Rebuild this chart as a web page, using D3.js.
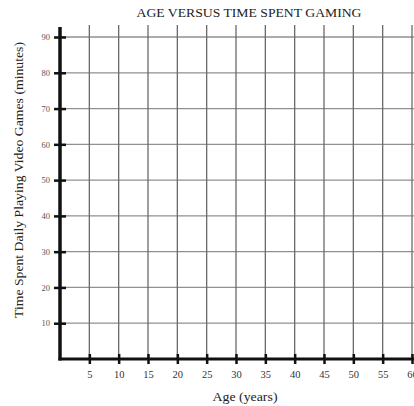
<!DOCTYPE html>
<html>
<head>
<meta charset="utf-8">
<script src="https://cdn.jsdelivr.net/npm/d3@7"></script>
<style>
  body { margin: 0; background: #fff; }
  svg { display: block; font-family: "Liberation Serif", "Times New Roman", serif; }
</style>
</head>
<body>
<div id="chart"></div>
<script>
// chart data: an empty worksheet grid
var title = "AGE VERSUS TIME SPENT GAMING";
var xLabel = "Age (years)";
var yLabel = "Time Spent Daily Playing Video Games (minutes)";
var xTicks = [5, 10, 15, 20, 25, 30, 35, 40, 45, 50, 55, 60];
var yTicks = [10, 20, 30, 40, 50, 60, 70, 80, 90];

var width = 414, height = 406;

var x = d3.scaleLinear().domain([0, 60]).range([60, 412]);
var y = d3.scaleLinear().domain([0, 90]).range([359, 37]);

var svg = d3.select("#chart").append("svg")
    .attr("width", width)
    .attr("height", height);

// horizontal grid lines
svg.append("g")
    .selectAll("line")
    .data(yTicks)
    .enter().append("line")
    .attr("x1", x(0))
    .attr("x2", width)
    .attr("y1", function (d) { return y(d); })
    .attr("y2", function (d) { return y(d); })
    .attr("stroke", "#919191")
    .attr("stroke-width", 1.3);

// vertical grid lines
svg.append("g")
    .selectAll("line")
    .data(xTicks)
    .enter().append("line")
    .attr("x1", function (d) { return x(d); })
    .attr("x2", function (d) { return x(d); })
    .attr("y1", 25)
    .attr("y2", y(0))
    .attr("stroke", "#6a6a6a")
    .attr("stroke-width", 1.3);

// x axis
var xAxis = d3.axisBottom(x)
    .tickValues(xTicks)
    .tickSizeInner(5)
    .tickSizeOuter(0)
    .tickPadding(7);

var gx = svg.append("g")
    .attr("transform", "translate(0," + y(0) + ")")
    .call(xAxis);
gx.select(".domain").remove();
gx.selectAll(".tick line")
    .attr("y1", -5)
    .attr("y2", 5)
    .attr("stroke", "#111")
    .attr("stroke-width", 2.5);
gx.selectAll(".tick text")
    .attr("font-family", "Liberation Serif")
    .attr("font-size", 10.5)
    .attr("fill", "#333");

// y axis
var yAxis = d3.axisLeft(y)
    .tickValues(yTicks)
    .tickSizeInner(6)
    .tickSizeOuter(0)
    .tickPadding(4);

var gy = svg.append("g")
    .attr("transform", "translate(" + x(0) + ",0)")
    .call(yAxis);
gy.select(".domain").remove();
gy.selectAll(".tick line")
    .attr("x1", -6)
    .attr("x2", 6)
    .attr("stroke", "#111")
    .attr("stroke-width", 2.5);
gy.selectAll(".tick text")
    .attr("font-family", "Liberation Serif")
    .attr("font-size", 8.5)
    .attr("fill", "#555");

// heavy axis lines
svg.append("line")
    .attr("x1", x(0)).attr("x2", x(0))
    .attr("y1", 27).attr("y2", y(0) + 1.5)
    .attr("stroke", "#111").attr("stroke-width", 3.5);
svg.append("line")
    .attr("x1", x(0) - 1.5).attr("x2", width)
    .attr("y1", y(0)).attr("y2", y(0))
    .attr("stroke", "#111").attr("stroke-width", 3);

// title
svg.append("text")
    .attr("x", 249)
    .attr("y", 17)
    .attr("text-anchor", "middle")
    .attr("font-size", 12.5)
    .attr("textLength", 225)
    .attr("lengthAdjust", "spacingAndGlyphs")
    .attr("fill", "#222")
    .text(title);

// x label
svg.append("text")
    .attr("x", 245)
    .attr("y", 401)
    .attr("text-anchor", "middle")
    .attr("font-size", 12)
    .attr("textLength", 65)
    .attr("lengthAdjust", "spacingAndGlyphs")
    .attr("fill", "#222")
    .text(xLabel);

// y label
svg.append("text")
    .attr("transform", "translate(23,180) rotate(-90)")
    .attr("text-anchor", "middle")
    .attr("font-size", 12)
    .attr("textLength", 276)
    .attr("lengthAdjust", "spacingAndGlyphs")
    .attr("fill", "#222")
    .text(yLabel);
</script>
</body>
</html>
